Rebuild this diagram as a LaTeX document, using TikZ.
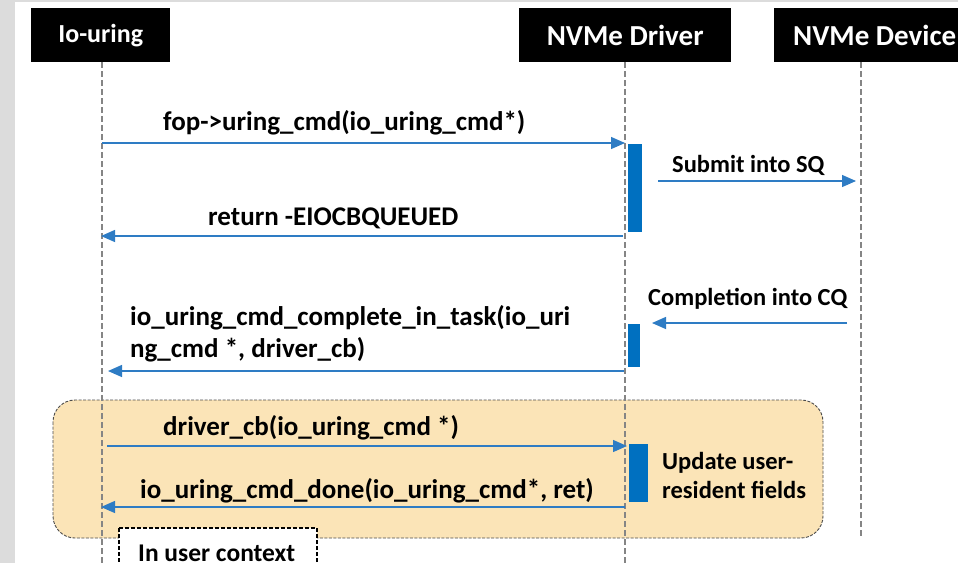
\documentclass[tikz,border=0pt]{standalone}
\usepackage{fontspec}
\setmainfont{Carlito}
\usetikzlibrary{arrows.meta}
\definecolor{arrowblue}{HTML}{2E7CC4}
\definecolor{barblue}{HTML}{0070C0}
\definecolor{ctxfill}{HTML}{FBE4B7}
\definecolor{lifegray}{HTML}{858585}
\definecolor{stripgray}{HTML}{DCDCDC}
\newcommand\myhdfont{\fontsize{29}{34}\selectfont\bfseries}
\newcommand\myhdsmall{\fontsize{26}{30}\selectfont\bfseries}
\newcommand\mylbfont{\fontsize{27}{32}\selectfont\bfseries}
\newcommand\mysdfont{\fontsize{24.5}{29}\selectfont\bfseries}
\newcommand\myctxfont{\fontsize{25.5}{30}\selectfont\bfseries}
\begin{document}
\begin{tikzpicture}[x=1pt,y=-1pt,
  header/.style={fill=black,text=white,font=\myhdfont,inner sep=0pt,minimum height=54pt,anchor=north west},
  hdtext/.style={text=white,font=\myhdfont,inner sep=0pt},
  lbl/.style={font=\mylbfont,inner sep=0pt,anchor=west,align=left},
  sidelbl/.style={lbl,font=\mysdfont},
  msg/.style={arrowblue,line width=1.3pt,-{Triangle[length=14pt,width=12pt]}},
  life/.style={lifegray,line width=1.5pt,dash pattern=on 6pt off 3pt},
  actbar/.style={fill=barblue,draw=none},
  ctxbox/.style={fill=ctxfill,draw=black!70,line width=0.9pt,dash pattern=on 3pt off 1.5pt,rounded corners=22pt},
  ctxlabel/.style={fill=white,draw=black,line width=1.3pt,dash pattern=on 4pt off 2pt}]
\useasboundingbox (0,0) rectangle (958,563);
\clip (0,0) rectangle (958,563);
% background
\fill[white] (0,0) rectangle (958,563);
\fill[stripgray] (0,0) rectangle (15,563);
\fill[stripgray] (15,0) rectangle (958,1.5);
% headers
\node[header,minimum width=139pt,font=\myhdsmall] (hio) at (31,8) {Io-uring};
\node[header,minimum width=212pt] (hdrv) at (519,8) {NVMe Driver};
\fill[black] (774,8) rectangle (960,62);
\node[hdtext,anchor=west] (hdev) at (793,35) {NVMe Device};
% context box
\draw[ctxbox] (53,400) rectangle (823,538);
% lifelines
\coordinate (lio) at (102,62);
\coordinate (ldrv) at (625,62);
\coordinate (ldev) at (861,62);
\draw[life] (lio) -- (102,563);
\draw[life] (ldrv) -- (625,563);
\draw[life] (ldev) -- (861,538);
% activation bars
\fill[actbar] (628,144) rectangle (642,232);
\fill[actbar] (628,324) rectangle (640,367);
\fill[actbar] (629,444) rectangle (648,502);
% message endpoints
\coordinate (a1s) at (102,143); \coordinate (a1e) at (625,143);
\coordinate (a2s) at (658,181); \coordinate (a2e) at (856,181);
\coordinate (a3s) at (623,236); \coordinate (a3e) at (101,236);
\coordinate (a4s) at (847,323); \coordinate (a4e) at (652,323);
\coordinate (a5s) at (624,371); \coordinate (a5e) at (108,371);
\coordinate (a6s) at (107,446); \coordinate (a6e) at (627,446);
\coordinate (a7s) at (625,507); \coordinate (a7e) at (101,507);
\draw[msg] (a1s) -- (a1e);
\draw[msg] (a2s) -- (a2e);
\draw[msg] (a3s) -- (a3e);
\draw[msg] (a4s) -- (a4e);
\draw[msg] (a5s) -- (a5e);
\draw[msg] (a6s) -- (a6e);
\draw[msg] (a7s) -- (a7e);
% labels
\node[lbl] (t1) at (163,123) {fop->uring\_cmd(io\_uring\_cmd*)};
\node[sidelbl] (t2) at (672,165) {Submit into SQ};
\node[lbl] (t3) at (208,218) {return -EIOCBQUEUED};
\node[sidelbl] (t4) at (648,299) {Completion into CQ};
\node[lbl] (t5) at (130,334) {io\_uring\_cmd\_complete\_in\_task(io\_uri\\ng\_cmd *, driver\_cb)};
\node[lbl] (t6) at (163,428) {driver\_cb(io\_uring\_cmd *)};
\node[lbl] (t7) at (140,491) {io\_uring\_cmd\_done(io\_uring\_cmd*, ret)};
\node[sidelbl] (t8) at (662,475) {Update user-\\resident fields};
% user context label
\draw[ctxlabel] (119,528) rectangle (317,575);
\node[lbl,font=\myctxfont] (t9) at (138,553) {In user context};
\end{tikzpicture}
\end{document}
